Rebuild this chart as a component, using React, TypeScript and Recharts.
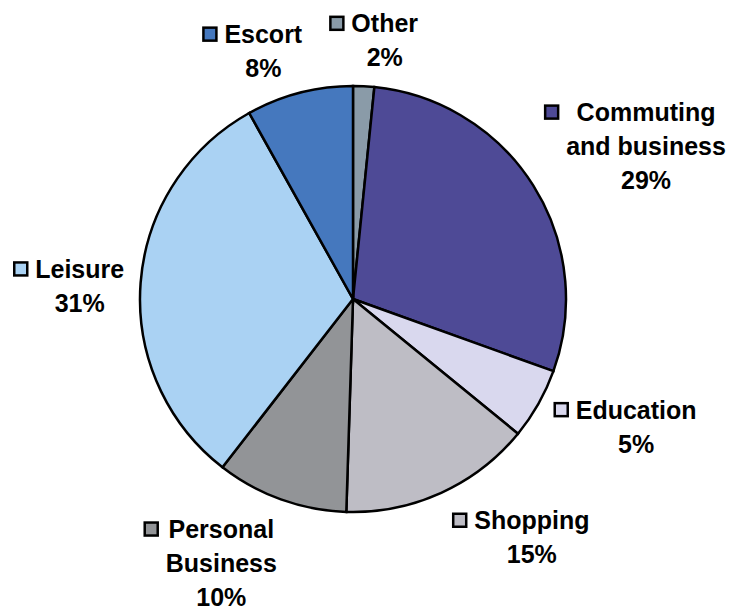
import { Cell, Pie, PieChart } from "recharts";

const categories = ["Other", "Commuting and business", "Education", "Shopping", "Personal Business", "Leisure", "Escort"];
const shares = [1.6, 28.9, 5.4, 14.6, 10.0, 31.4, 8.1];

const sliceColors = ["#8A9BA8", "#4E4A96", "#D9D8EE", "#BEBDC5", "#929497", "#AAD2F3", "#4578BE"];
// nudge of each label block from the point 40px outside the slice's middle
const labelShift = [[19, -6], [79, -18], [63, 3], [74, 8], [-46, 26], [-21, 6], [-26, -3]];

const data = categories.map((name, i) => ({ name, value: shares[i] }));

const FONT = "bold 25px 'Liberation Sans', Arial, sans-serif";
const LINE = 34;
const RAD = Math.PI / 180;

let ctx: CanvasRenderingContext2D | null = null;
function textWidth(t: string) {
    if (!ctx) ctx = document.createElement("canvas").getContext("2d");
    if (!ctx) return t.length * 13;
    ctx.font = FONT;
    return ctx.measureText(t).width;
}

function splitName(name: string) {
    const words = name.split(" ");
    if (words.length > 1 && name.length > 10) return [words[0], words.slice(1).join(" ")];
    return [name];
}

function renderLabel(props: any) {
    const { cx, cy, midAngle, outerRadius, index, value } = props;
    const r = outerRadius + 40;
    const px = cx + r * Math.cos(-midAngle * RAD) + labelShift[index][0];
    const py = cy + r * Math.sin(-midAngle * RAD) + labelShift[index][1];
    const lines = [...splitName(categories[index]), `${Math.round(value)}%`];
    const top = py - ((lines.length - 1) * LINE) / 2;
    const left = Math.min(...lines.map((l) => px - textWidth(l) / 2));
    const box = 13;
    return (
        <g key={`lbl-${index}`}>
            <rect
                x={left - 8 - box}
                y={top - box / 2}
                width={box}
                height={box}
                fill={sliceColors[index]}
                stroke="#000"
                strokeWidth={2.5}
            />
            {lines.map((l, i) => (
                <text
                    key={i}
                    x={px}
                    y={top + i * LINE + 9}
                    textAnchor="middle"
                    fill="#000"
                    style={{ font: FONT }}
                >
                    {l}
                </text>
            ))}
        </g>
    );
}

export default function App() {
    return (
        <div style={{ position: "absolute", left: 0, top: 0 }}>
            <PieChart width={729} height={611} margin={{ top: 0, right: 0, bottom: 0, left: 0 }}>
                <Pie
                    data={data}
                    dataKey="value"
                    nameKey="name"
                    cx={353}
                    cy={299}
                    outerRadius={213}
                    startAngle={90}
                    endAngle={-270}
                    stroke="#000"
                    strokeWidth={2.5}
                    label={renderLabel}
                    labelLine={false}
                    isAnimationActive={false}
                >
                    {data.map((d, i) => (
                        <Cell key={d.name} fill={sliceColors[i]} />
                    ))}
                </Pie>
            </PieChart>
        </div>
    );
}
